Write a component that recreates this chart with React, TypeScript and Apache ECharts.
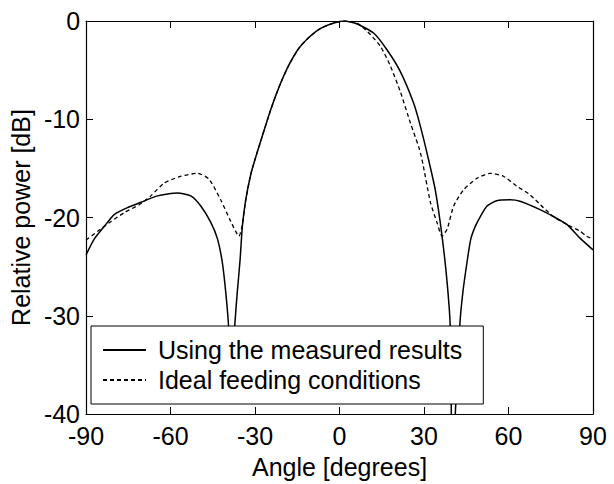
import React, { useEffect, useRef } from "react";
import * as echarts from "echarts";

// Angle [degrees] and relative power [dB]
const measuredAngle = [
  -90, -87.1, -83.5, -80, -75.3, -70.5, -64.6, -57.5, -52.8, -49.2, -45.7, -43.3, -41.6, -40.4, -39.4,
  -38.3, -37.2, -36.3, -35.3, -34.5, -33.3, -31.5, -29.8, -27.3, -24.4, -21.3, -18, -14.5, -11, -6.7, -2.0,
  1.5, 6.3, 12.2, 16.9, 21.6, 26.3, 28.7, 31.6, 34.0, 36.4, 38.2, 39.3, 39.7, 40.1, 41.1, 42.7,
  43.8, 45.4, 46.6, 48.2, 50, 52.3, 55.8, 60.6, 64.1, 71.2, 75.9, 80.7, 85.4, 90,
];
const measuredPower = [
  -23.8, -22.2, -20.9, -19.7, -19.0, -18.45, -17.8, -17.5, -17.8, -18.85, -20.5, -22.2, -24.6, -27.6, -31.0,
  -37, -31.0, -27.6, -24.3, -20.9, -18.2, -15.6, -13.9, -11.6, -9.0, -6.6, -4.5, -2.8, -1.7, -0.75, -0.2,
  0, -0.3, -1.25, -2.95, -5.15, -8.35, -10.7, -14.1, -17.2, -21.9, -26.6, -31.0, -40, -46, -40, -31,
  -27.6, -24.3, -22.2, -20.9, -19.9, -18.85, -18.3, -18.2, -18.35, -19.2, -19.9, -20.7, -22.1, -23.3,
];

const idealAngle = [
  -90, -85.9, -81.1, -76.4, -71.1, -67, -62.3, -56.3, -50.4, -46.3, -42.2, -38.6, -35.7, -34.6, -33.3,
  -31.5, -29.8, -27.3, -24.4, -21.3, -18, -14.5, -11, -6.7, -2.0, 1.5, 6.3, 11.0, 14.6, 18.1, 21.6,
  25.2, 28.1, 29.3, 32.3, 34.6, 36.4, 38.2, 40.5, 44.0, 48.8, 53.5, 58.2, 62.9, 67.7, 72.4,
  75.9, 80.7, 85.4, 87.7, 90,
];
const idealPower = [
  -22.3, -21.4, -20.4, -19.5, -18.7, -17.8, -16.5, -15.8, -15.5, -16.1, -18.2, -20.4, -21.9, -20.9, -18.2,
  -15.6, -13.9, -11.6, -9.0, -6.6, -4.5, -2.8, -1.7, -0.75, -0.2, 0, -0.2, -1.4, -2.6, -4.6, -7.2,
  -10.4, -12.8, -14.1, -18.5, -20.5, -21.9, -21.2, -18.85, -17.2, -16.0, -15.5, -15.8, -16.8, -17.7, -19.0,
  -19.9, -20.7, -21.4, -21.9, -22.2,
];

const seriesNames = ["Using the measured results", "Ideal feeding conditions"];

const FONT = "'Liberation Sans', Arial, Helvetica, sans-serif";

export default function App() {
  const ref = useRef<HTMLDivElement>(null);

  useEffect(() => {
    document.body.style.margin = "0";
    if (!ref.current) return;
    const chart = echarts.init(ref.current, undefined, { renderer: "svg" });

    const measured = measuredAngle.map((a, i) => [a, measuredPower[i]]);
    const ideal = idealAngle.map((a, i) => [a, idealPower[i]]);

    const axisLine = { show: true, onZero: false, lineStyle: { color: "#000", width: 1.2 } };
    const tick = { show: true, inside: true, length: 7, lineStyle: { color: "#000", width: 1 } };

    chart.setOption({
      animation: false,
      backgroundColor: "#fff",
      textStyle: { fontFamily: FONT },
      grid: { left: 85, right: 21, top: 21, bottom: 69, containLabel: false },
      xAxis: [
        {
          type: "value",
          min: -90,
          max: 90,
          interval: 30,
          position: "bottom",
          name: "Angle [degrees]",
          nameLocation: "middle",
          nameGap: 40,
          nameTextStyle: { fontSize: 25, color: "#000", fontFamily: FONT },
          axisLine,
          axisTick: tick,
          axisLabel: { fontSize: 25, color: "#000", margin: 9, fontFamily: FONT },
          splitLine: { show: false },
        },
        {
          type: "value",
          min: -90,
          max: 90,
          interval: 30,
          position: "top",
          axisLine,
          axisTick: tick,
          axisLabel: { show: false },
          splitLine: { show: false },
        },
      ],
      yAxis: [
        {
          type: "value",
          min: -40,
          max: 0,
          interval: 10,
          position: "left",
          name: "Relative power [dB]",
          nameLocation: "middle",
          nameRotate: 90,
          nameGap: 50,
          nameTextStyle: { fontSize: 25, color: "#000", fontFamily: FONT },
          axisLine,
          axisTick: tick,
          axisLabel: { fontSize: 25, color: "#000", margin: 6, fontFamily: FONT },
          splitLine: { show: false },
        },
        {
          type: "value",
          min: -40,
          max: 0,
          interval: 10,
          position: "right",
          axisLine,
          axisTick: tick,
          axisLabel: { show: false },
          splitLine: { show: false },
        },
      ],
      legend: {
        show: true,
        orient: "vertical",
        left: 91,
        top: 326,
        data: seriesNames,
        itemWidth: 43,
        itemHeight: 14,
        itemGap: 2,
        padding: [10, 21, 10, 11],
        borderColor: "#000",
        borderWidth: 1,
        borderRadius: 0,
        backgroundColor: "#fff",
        selectedMode: false,
        itemStyle: { opacity: 0 },
        textStyle: {
          fontSize: 25,
          color: "#000",
          fontFamily: FONT,
          lineHeight: 28,
          padding: [0, 0, 0, 7],
        },
      },
      series: [
        {
          name: seriesNames[0],
          type: "line",
          data: measured,
          xAxisIndex: 0,
          yAxisIndex: 0,
          showSymbol: false,
          symbol: "none",
          smooth: 0.2,
          clip: true,
          lineStyle: { color: "#000", width: 1.5, type: "solid" },
          itemStyle: { color: "#000" },
        },
        {
          name: seriesNames[1],
          type: "line",
          data: ideal,
          xAxisIndex: 0,
          yAxisIndex: 0,
          showSymbol: false,
          symbol: "none",
          smooth: 0.2,
          clip: true,
          lineStyle: { color: "#000", width: 1.3, type: [4, 3] },
          itemStyle: { color: "#000" },
        },
      ],
    });

    return () => chart.dispose();
  }, []);

  return <div ref={ref} style={{ width: 614, height: 484 }} />;
}
